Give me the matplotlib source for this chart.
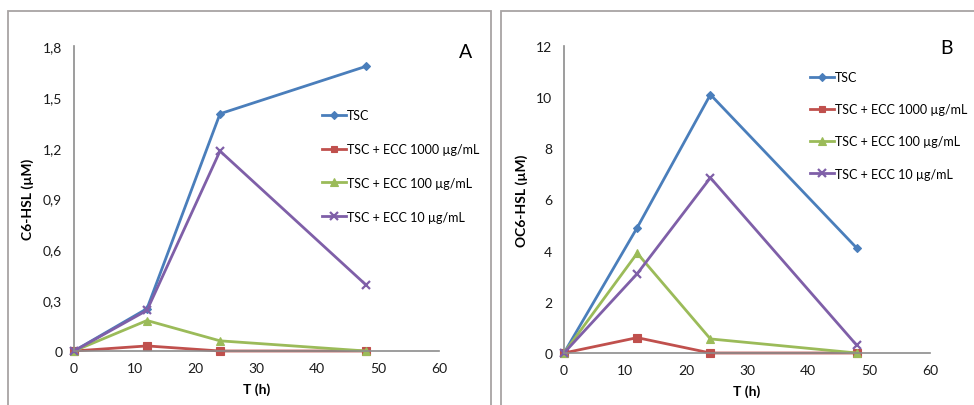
import matplotlib
matplotlib.use("Agg")
import matplotlib.pyplot as plt
from matplotlib.ticker import FuncFormatter, FixedLocator
from matplotlib.patches import Rectangle

plt.rcParams['font.family'] = ['Lato', 'DejaVu Sans']

# ---- data ----
time_h = [0, 12, 24, 48]
series_labels = ["TSC", "TSC + ECC 1000 µg/mL", "TSC + ECC 100 µg/mL", "TSC + ECC 10 µg/mL"]

c6_tsc = [0, 0.25, 1.40, 1.68]
c6_ecc1000 = [0, 0.03, 0.0, 0.0]
c6_ecc100 = [0, 0.18, 0.06, 0.0]
c6_ecc10 = [0, 0.24, 1.18, 0.39]

oc6_tsc = [0, 4.9, 10.1, 4.1]
oc6_ecc1000 = [0, 0.6, 0.0, 0.0]
oc6_ecc100 = [0, 3.9, 0.55, 0.0]
oc6_ecc10 = [0, 3.1, 6.85, 0.3]

c6_yticks = [0, 0.3, 0.6, 0.9, 1.2, 1.5, 1.8]
oc6_yticks = [0, 2, 4, 6, 8, 10, 12]
x_ticks = [0, 10, 20, 30, 40, 50, 60]

colors = ["#4a7ebb", "#c0504d", "#9bbb59", "#7f5fa8"]
markers = ["D", "s", "^", "x"]
msizes = [4.5, 5.5, 6, 6]

W, H = 974, 406
fig = plt.figure(figsize=(W / 100, H / 100), dpi=100)
fig.patch.set_facecolor("white")

def fx(px):
    return px / W

def fy(py):
    return 1 - py / H

# frames
fig.add_artist(Rectangle((fx(8), fy(420)), fx(491) - fx(8), fy(12) - fy(420),
                         transform=fig.transFigure, fill=False, edgecolor="#a8a4a4", lw=1.3))
fig.add_artist(Rectangle((fx(501), fy(420)), fx(990) - fx(501), fy(12) - fy(420),
                         transform=fig.transFigure, fill=False, edgecolor="#a8a4a4", lw=1.3))

def comma_fmt(v, pos):
    if abs(v) < 1e-9:
        return "0"
    s = ("%.1f" % v) if abs(v - round(v)) > 1e-9 else ("%d" % round(v))
    return s.replace(".", ",")

def make_panel(rect, data, yticks, ylabel, letter, letter_pos, leg_pos, spacing):
    ax = fig.add_axes(rect)
    ax.set_facecolor("none")
    for vals, lab, c, m, ms in zip(data, series_labels, colors, markers, msizes):
        ax.plot(time_h, vals, color=c, lw=2.0, marker=m, ms=ms, mew=1.6 if m == "x" else 0.8,
                mec=c, mfc=c, label=lab, clip_on=False)
    ax.set_xlim(0, 60)
    ax.set_ylim(0, yticks[-1])
    ax.xaxis.set_major_locator(FixedLocator(x_ticks))
    ax.yaxis.set_major_locator(FixedLocator(yticks))
    ax.yaxis.set_major_formatter(FuncFormatter(comma_fmt))
    for s in ["top", "right"]:
        ax.spines[s].set_visible(False)
    for s in ["left", "bottom"]:
        ax.spines[s].set_color("#8c8c8c")
        ax.spines[s].set_linewidth(1.2)
    ax.tick_params(length=0, labelsize=10, colors="#1a1a1a")
    ax.tick_params(axis="y", pad=8.5)
    ax.tick_params(axis="x", pad=8)
    ax.set_xlabel("T (h)", fontsize=10, fontweight="bold", labelpad=6)
    ax.set_ylabel(ylabel, fontsize=10, fontweight="bold", labelpad=6)
    fig.text(fx(letter_pos[0]), fy(letter_pos[1]), letter, fontsize=14,
             ha="center", va="center")
    ax.legend(loc="upper left", bbox_to_anchor=(fx(leg_pos[0]), fy(leg_pos[1])),
              bbox_transform=fig.transFigure, frameon=False, fontsize=9,
              handlelength=1.9, handletextpad=0.1, labelspacing=spacing,
              borderpad=0, borderaxespad=0, markerscale=0.9)
    return ax

make_panel([fx(74), fy(352), fx(439) - fx(74), fy(47) - fy(352)],
           [c6_tsc, c6_ecc1000, c6_ecc100, c6_ecc10], c6_yticks,
           "C6-HSL (µM)", "A", (466, 52), (322, 110), 1.75)
make_panel([fx(564), fy(354), fx(930) - fx(564), fy(47) - fy(354)],
           [oc6_tsc, oc6_ecc1000, oc6_ecc100, oc6_ecc10], oc6_yticks,
           "OC6-HSL (µM)", "B", (947, 48), (810, 72), 1.62)

fig.savefig("out.png", dpi=100, facecolor="white")
